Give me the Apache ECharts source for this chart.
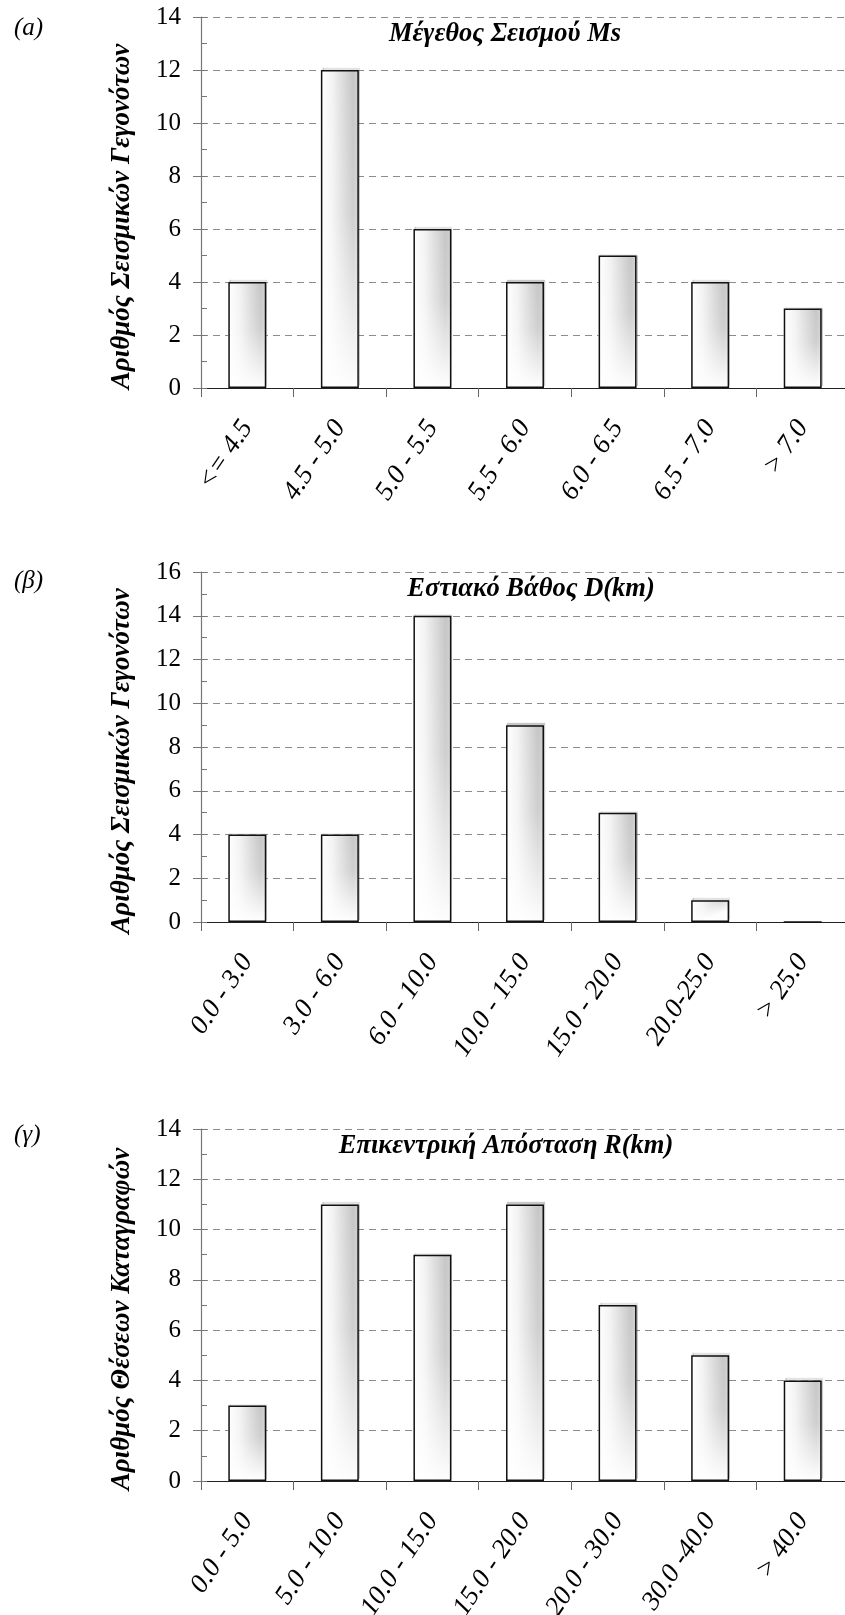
<!DOCTYPE html>
<html><head><meta charset="utf-8">
<script src="https://cdn.jsdelivr.net/npm/echarts@6/dist/echarts.min.js"></script>
<style>html,body{margin:0;padding:0;overflow:hidden;background:#fff}#c{width:850px;height:1615px}</style>
</head><body><div id="c"></div>
<script>
// ---- data ----
const magCategories = ['<= 4.5', '4.5 - 5.0', '5.0 - 5.5', '5.5 - 6.0', '6.0 - 6.5', '6.5 - 7.0', '> 7.0'];
const magCounts = [4, 12, 6, 4, 5, 4, 3];
const magYMax = 14;

const depthCategories = ['0.0 - 3.0', '3.0 - 6.0', '6.0 - 10.0', '10.0 - 15.0', '15.0 - 20.0', '20.0-25.0', '> 25.0'];
const depthCounts = [4, 4, 14, 9, 5, 1, 0];
const depthYMax = 16;

const distCategories = ['0.0 - 5.0', '5.0 - 10.0', '10.0 - 15.0', '15.0 - 20.0', '20.0 - 30.0', '30.0 -40.0', '> 40.0'];
const distCounts = [3, 11, 9, 11, 7, 5, 4];
const distYMax = 14;

const yInterval = 2;

const panelLabels = ['(a)', '(β)', '(γ)'];
const panelTitles = ['Μέγεθος Σεισμού Ms', 'Εστιακό Βάθος D(km)', 'Επικεντρική Απόσταση R(km)'];
const yNames = ['Αριθμός Σεισμικών Γεγονότων', 'Αριθμός Σεισμικών Γεγονότων', 'Αριθμός Θέσεων Καταγραφών'];

// ---- layout ----
const FONT = "'Liberation Serif', 'Times New Roman', serif";
const panels = [
  { cats: magCategories, vals: magCounts, max: magYMax, top: 17, height: 371, titleX: 505, labelY: 28 },
  { cats: depthCategories, vals: depthCounts, max: depthYMax, top: 572, height: 350, titleX: 531, labelY: 581 },
  { cats: distCategories, vals: distCounts, max: distYMax, top: 1129, height: 352, titleX: 506, labelY: 1135 }
];
const gridLeft = 201, gridWidth = 648;

const sideFill = {
  type: 'linear', x: 0, y: 0, x2: 1, y2: 0,
  colorStops: [
    { offset: 0, color: '#ffffff' },
    { offset: 0.3, color: '#f3f3f3' },
    { offset: 0.85, color: '#c6c6c6' },
    { offset: 1, color: '#d2d2d2' }
  ]
};
const bottomFade = {
  type: 'linear', x: 0, y: 0, x2: 0.25, y2: 1,
  colorStops: [
    { offset: 0, color: 'rgba(255,255,255,0)' },
    { offset: 0.45, color: 'rgba(255,255,255,0.15)' },
    { offset: 1, color: 'rgba(255,255,255,0.97)' }
  ]
};

const grid = [], xAxis = [], yAxis = [], series = [], graphic = [];
panels.forEach((p, i) => {
  grid.push({ left: gridLeft, top: p.top, width: gridWidth, height: p.height, containLabel: false, outerBoundsMode: 'none' });
  xAxis.push({
    gridIndex: i, type: 'category', data: p.cats,
    axisLine: { show: true, lineStyle: { color: '#222', width: 1.2 } },
    axisTick: { show: true, length: 9, lineStyle: { color: '#666' } },
    axisLabel: { interval: 0, rotate: 56, margin: 35, padding: [15, 0, 0, 0], fontSize: 27, fontStyle: 'italic', color: '#000', fontFamily: FONT },
    splitLine: { show: false }
  });
  yAxis.push({
    gridIndex: i, type: 'value', min: 0, max: p.max, interval: yInterval,
    axisLine: { show: true, lineStyle: { color: '#777', width: 1.2 } },
    axisTick: { show: true, length: 8, lineStyle: { color: '#777' } },
    axisLabel: { margin: 20, fontSize: 25, color: '#000', fontFamily: FONT },
    splitLine: { show: true, lineStyle: { color: '#8c8c8c', type: [7, 5], width: 1 } },
    name: yNames[i], nameLocation: 'middle', nameGap: 65, nameRotate: 90,
    nameTextStyle: { fontFamily: FONT, fontSize: 27, fontWeight: 'bold', fontStyle: 'italic', color: '#000', padding: [0, 28, 0, 0] }
  });
  yAxis.push({
    gridIndex: i, type: 'value', min: 0, max: p.max, interval: yInterval, position: 'left',
    axisLine: { show: false },
    axisTick: { show: true, inside: true, length: 6, lineStyle: { color: '#777' } },
    minorTick: { show: true, splitNumber: 2, length: 6, lineStyle: { color: '#777' } },
    axisLabel: { show: false }, splitLine: { show: false }
  });
  const common = { type: 'bar', xAxisIndex: i, yAxisIndex: 2 * i, data: p.vals, barWidth: '41%', barGap: '-100%', emphasis: { disabled: true }, silent: true };
  series.push(Object.assign({}, common, {
    itemStyle: { color: sideFill, borderWidth: 0,
      shadowColor: 'rgba(0,0,0,0.22)', shadowBlur: 1, shadowOffsetX: 1, shadowOffsetY: -2 }
  }));
  series.push(Object.assign({}, common, { itemStyle: { color: bottomFade, borderWidth: 0 } }));
  series.push(Object.assign({}, common, { itemStyle: { color: 'rgba(0,0,0,0)', borderColor: '#111', borderWidth: 1.5 } }));
  graphic.push({
    type: 'text', x: p.titleX, y: p.top + 17,
    style: { text: panelTitles[i], font: "italic bold 26.5px 'Liberation Serif', serif", fill: '#000', align: 'center', verticalAlign: 'middle' }
  });
  graphic.push({
    type: 'text', x: 14, y: p.labelY,
    style: { text: panelLabels[i], font: "italic 25px 'Liberation Serif', serif", fill: '#000', align: 'left', verticalAlign: 'middle' }
  });
});

const chart = echarts.init(document.getElementById('c'), null, { renderer: 'canvas' });
chart.setOption({ animation: false, backgroundColor: '#fff', grid, xAxis, yAxis, series, graphic });
</script></body></html>
